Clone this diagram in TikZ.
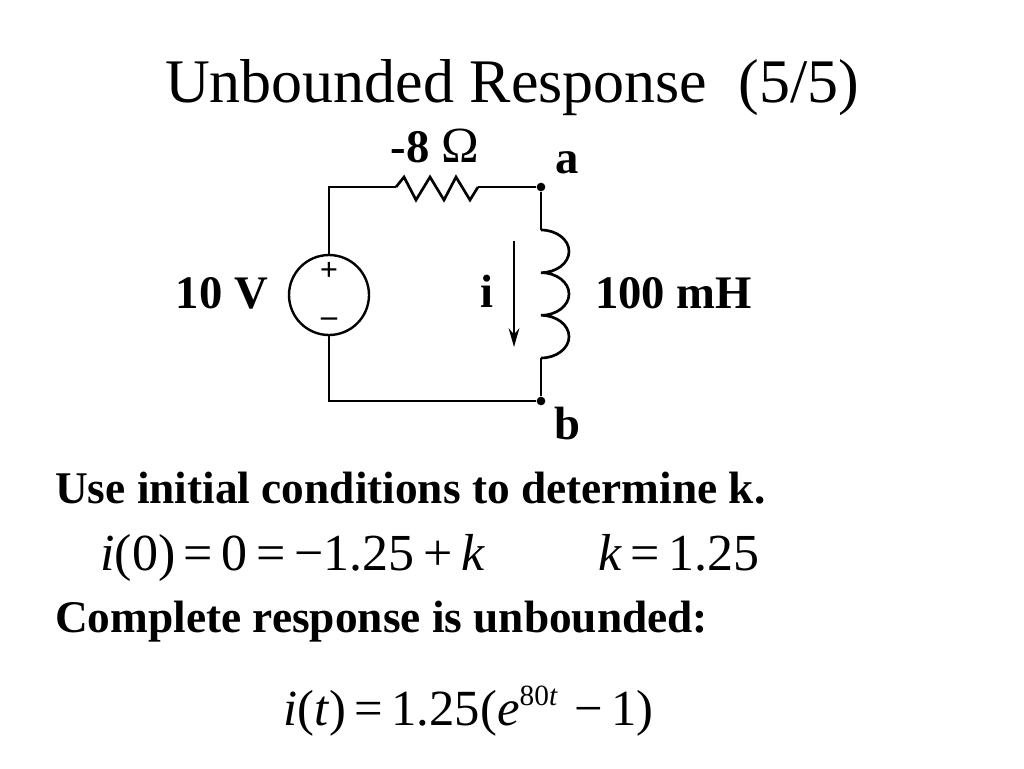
\documentclass[tikz,border=0pt]{standalone}
\usepackage{fontspec}
\setmainfont{Liberation Serif}
\usetikzlibrary{arrows.meta}
\tikzset{
  thinwire/.style={line width=2pt, line join=miter},
  dotnode/.style={circle, fill=black, inner sep=0pt, minimum size=6.5pt},
  lbl/.style={font=\bfseries\fontsize{35}{38}\selectfont, inner sep=0pt, anchor=base},
  body/.style={font=\bfseries\fontsize{34}{38}\selectfont, inner sep=0pt, anchor=base west},
  eqn/.style={font=\fontsize{39}{42}\selectfont, inner sep=0pt, anchor=base west}
}
\begin{document}
\begin{tikzpicture}[x=0.75pt,y=-0.75pt]
\useasboundingbox[fill=white] (0,0) rectangle (1024,768);
% title
\node[font=\fontsize{46.5}{50}\selectfont, inner sep=0pt, anchor=base] (title) at (512,102) {Unbounded Response\ \ (5/5)};
% circuit coordinates
\node[dotnode] (a) at (541,187) {};
\node[dotnode] (b) at (541,401) {};
\node[circle, draw, line width=1.8pt, minimum size=60pt, inner sep=0pt] (src) at (329,295) {};
\coordinate (tl) at (329,187);
\coordinate (bl) at (329,401);
\coordinate (r1) at (396,187);
\coordinate (r2) at (478,187);
\coordinate (l1) at (541,230);
\coordinate (l2) at (541,358);
% wires
\draw[thinwire] (src.north) -- (tl) -- (r1);
\draw[thinwire] (r1) -- (404,177) -- (416,200) -- (430,177) -- (444,200) -- (456,177) -- (470,200) -- (r2);
\draw[thinwire] (r2) -- (a);
\draw[thinwire] (a) -- (l1);
\draw[thinwire] (l1) arc[start angle=-90, end angle=90, x radius=28, y radius=21.33]
  arc[start angle=-90, end angle=90, x radius=28, y radius=21.33]
  arc[start angle=-90, end angle=90, x radius=28, y radius=21.33];
\draw[thinwire] (l2) -- (b);
\draw[thinwire] (b) -- (bl) -- (src.south);
% source signs
\node[font=\bfseries\fontsize{24}{24}\selectfont, inner sep=0pt] (plus) at (329,271) {+};
\node[font=\bfseries\fontsize{24}{24}\selectfont, inner sep=0pt] (minus) at (329,322) {\textendash};
% current arrow
\coordinate (ia) at (514,241);
\coordinate (ib) at (514,347);
\draw[line width=1.8pt, -{Stealth[length=14pt, width=8pt]}] (ia) -- (ib);
% labels
\node[lbl] (lR) at (435,162) {-8 \textnormal{\fontsize{38}{38}\selectfont Ω}};
\node[lbl] (la) at (567,173) {a};
\node[lbl] (lb) at (567,439) {b};
\node[lbl] (lV) at (222,308) {10 V};
\node[lbl] (li) at (487,307) {i};
\node[lbl, anchor=base west] (lL) at (595,308) {100 mH};
% body text
\node[body] (t1) at (55,503) {Use initial conditions to determine k.};
\node[eqn] (e1) at (100,570) {\textit{i}(0)\,=\,0\,=\,−1.25\,+\,\textit{k}};
\node[eqn] (e2) at (598,570) {\textit{k}\,=\,1.25};
\node[body] (t2) at (55,632) {Complete response is unbounded:};
\node[eqn, font=\fontsize{38}{42}\selectfont] (e3) at (283,725) {\textit{i}(\textit{t})\,=\,1.25(\textit{e}\raisebox{15pt}{\fontsize{22}{22}\selectfont 80\textit{t}}\,\,−\,1)};
\end{tikzpicture}
\end{document}
